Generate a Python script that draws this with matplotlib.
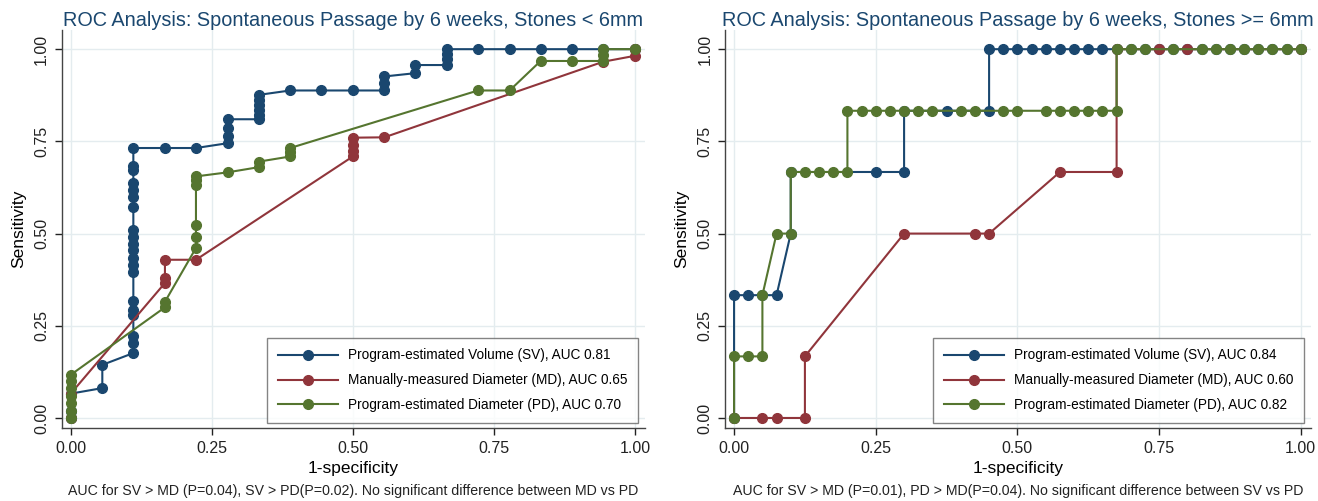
"""
ROC curves for spontaneous stone passage, small vs large stones.
Two panels side by side, Stata s2color look.
"""

import matplotlib
matplotlib.use("Agg")
import matplotlib.pyplot as plt

plt.rcParams["font.family"] = ["Liberation Sans", "DejaVu Sans"]

# colours (Stata s2color)
NAVY = "#1a476f"
MAROON = "#90353b"
FOREST = "#55752f"
GRID = "#e4ecef"

ticks = [0.0, 0.25, 0.5, 0.75, 1.0]
tick_labels = ["0.00", "0.25", "0.50", "0.75", "1.00"]

# ---- Stones < 6mm ----
sv_lo_x = [0, 0, 0, 0.056, 0.056,
           0.111, 0.111, 0.111, 0.111, 0.111, 0.111, 0.111, 0.111, 0.111, 0.111,
           0.111, 0.111, 0.111, 0.111, 0.111, 0.111, 0.111, 0.111, 0.111, 0.111,
           0.167, 0.222, 0.278, 0.278, 0.278, 0.278,
           0.333, 0.333, 0.333, 0.333, 0.333, 0.333,
           0.389, 0.444, 0.5, 0.556, 0.556, 0.556, 0.611, 0.611,
           0.667, 0.667, 0.667, 0.667, 0.722, 0.778, 0.833, 0.889, 0.944, 1.0]
sv_lo_y = [0, 0.02, 0.066, 0.081, 0.144,
           0.176, 0.203, 0.221, 0.28, 0.293, 0.318, 0.397, 0.415, 0.435, 0.456,
           0.472, 0.49, 0.51, 0.573, 0.6, 0.618, 0.637, 0.673, 0.682, 0.732,
           0.732, 0.732, 0.745, 0.765, 0.785, 0.81,
           0.81, 0.822, 0.836, 0.849, 0.863, 0.876,
           0.888, 0.888, 0.888, 0.888, 0.908, 0.926, 0.935, 0.957,
           0.957, 0.973, 0.986, 1.0, 1.0, 1.0, 1.0, 1.0, 1.0, 1.0]

md_lo_x = [0, 0, 0.167, 0.167, 0.167, 0.222, 0.5, 0.5, 0.5, 0.5, 0.556, 0.944, 1.0, 1.0]
md_lo_y = [0, 0.066, 0.366, 0.379, 0.429, 0.429, 0.709, 0.725, 0.74, 0.76, 0.761, 0.966, 0.982, 1.0]

pd_lo_x = [0, 0, 0, 0, 0, 0, 0, 0.167, 0.167, 0.222, 0.222, 0.222, 0.222, 0.222, 0.222,
           0.278, 0.333, 0.333, 0.389, 0.389, 0.389, 0.722, 0.778, 0.833, 0.889,
           0.944, 0.944, 0.944, 1.0]
pd_lo_y = [0, 0.02, 0.04, 0.06, 0.08, 0.1, 0.117, 0.3, 0.315, 0.461, 0.492, 0.524, 0.632, 0.645, 0.655,
           0.666, 0.68, 0.695, 0.709, 0.72, 0.732, 0.888, 0.888, 0.968, 0.968,
           0.968, 0.985, 1.0, 1.0]

# ---- Stones >= 6mm ----
sv_hi_x = [0, 0, 0.025, 0.05, 0.075, 0.1, 0.1, 0.25, 0.3, 0.3, 0.375, 0.45, 0.45,
           0.475, 0.5, 0.525, 0.55, 0.575, 0.6, 0.625, 0.65, 0.675, 0.7, 0.725, 0.75,
           0.775, 0.8, 0.825, 0.85, 0.875, 0.9, 0.925, 0.95, 0.975, 1.0]
sv_hi_y = [0, 0.333, 0.333, 0.333, 0.333, 0.5, 0.667, 0.667, 0.667, 0.833, 0.833, 0.833, 1.0,
           1.0, 1.0, 1.0, 1.0, 1.0, 1.0, 1.0, 1.0, 1.0, 1.0, 1.0, 1.0,
           1.0, 1.0, 1.0, 1.0, 1.0, 1.0, 1.0, 1.0, 1.0, 1.0]

md_hi_x = [0, 0.05, 0.075, 0.125, 0.125, 0.3, 0.425, 0.45, 0.575, 0.675, 0.675, 0.75, 0.8, 1.0]
md_hi_y = [0, 0, 0, 0, 0.167, 0.5, 0.5, 0.5, 0.667, 0.667, 1.0, 1.0, 1.0, 1.0]

pd_hi_x = [0, 0, 0.025, 0.05, 0.05, 0.075, 0.1, 0.1, 0.125, 0.15, 0.175, 0.2, 0.2,
           0.225, 0.25, 0.275, 0.3, 0.325, 0.35, 0.4, 0.425, 0.475, 0.5, 0.55, 0.575,
           0.6, 0.625, 0.65, 0.675, 0.675, 0.7, 0.725, 0.775, 0.825, 0.85, 0.875, 0.9,
           0.925, 0.95, 0.975, 1.0]
pd_hi_y = [0, 0.167, 0.167, 0.167, 0.333, 0.5, 0.5, 0.667, 0.667, 0.667, 0.667, 0.667, 0.833,
           0.833, 0.833, 0.833, 0.833, 0.833, 0.833, 0.833, 0.833, 0.833, 0.833, 0.833, 0.833,
           0.833, 0.833, 0.833, 0.833, 1.0, 1.0, 1.0, 1.0, 1.0, 1.0, 1.0, 1.0,
           1.0, 1.0, 1.0, 1.0]

panels = [
    {
        "title": "ROC Analysis: Spontaneous Passage by 6 weeks, Stones < 6mm",
        "series": [(sv_lo_x, sv_lo_y, NAVY, "Program-estimated Volume (SV), AUC 0.81"),
                   (md_lo_x, md_lo_y, MAROON, "Manually-measured Diameter (MD), AUC 0.65"),
                   (pd_lo_x, pd_lo_y, FOREST, "Program-estimated Diameter (PD), AUC 0.70")],
        "note": "AUC for SV > MD (P=0.04), SV > PD(P=0.02). No significant difference between MD vs PD",
        "rect": [61.7 / 1318, 1 - 428.3 / 501, (645 - 61.7) / 1318, (428.3 - 30) / 501],
    },
    {
        "title": "ROC Analysis: Spontaneous Passage by 6 weeks, Stones >= 6mm",
        "series": [(sv_hi_x, sv_hi_y, NAVY, "Program-estimated Volume (SV), AUC 0.84"),
                   (md_hi_x, md_hi_y, MAROON, "Manually-measured Diameter (MD), AUC 0.60"),
                   (pd_hi_x, pd_hi_y, FOREST, "Program-estimated Diameter (PD), AUC 0.82")],
        "note": "AUC for SV > MD (P=0.01), PD > MD(P=0.04). No significant difference between SV vs PD",
        "rect": [725 / 1318, 1 - 428.3 / 501, (1311 - 725) / 1318, (428.3 - 30) / 501],
    },
]


def draw_panel(fig, p):
    ax = fig.add_axes(p["rect"])
    for x, y, c, lab in p["series"]:
        ax.plot(x, y, color=c, lw=1.5, marker="o", ms=7, mec=c, mfc=c, label=lab)

    ax.set_xlim(-0.016, 1.018)
    ax.set_ylim(-0.028, 1.052)
    ax.set_xticks(ticks)
    ax.set_xticklabels(tick_labels)
    ax.set_yticks(ticks)
    ax.set_yticklabels(tick_labels, rotation=90, va="center")
    ax.tick_params(labelsize=11.5, colors="#222222", length=5, width=1, direction="out", pad=4)
    ax.grid(True, color=GRID, lw=1)
    ax.set_axisbelow(True)
    for s in ["top", "right"]:
        ax.spines[s].set_visible(False)
    for s in ["left", "bottom"]:
        ax.spines[s].set_color("#444444")
        ax.spines[s].set_linewidth(1)

    ax.set_xlabel("1-specificity", fontsize=12.5, labelpad=4)
    ax.set_ylabel("Sensitivity", fontsize=12.5, labelpad=6)
    ax.set_title(p["title"], fontsize=14.3, color=NAVY, pad=3)

    leg = ax.legend(loc="lower right", bbox_to_anchor=(0.988, 0.013), fontsize=9.8,
                    frameon=True, fancybox=False, handlelength=4.4, borderpad=0.8,
                    labelspacing=0.8, handletextpad=0.7, borderaxespad=0)
    leg.get_frame().set_edgecolor("#666666")
    leg.get_frame().set_linewidth(1)

    cx = p["rect"][0] + p["rect"][2] / 2
    fig.text(cx, 1 - 491 / 501, p["note"], fontsize=10.2, ha="center", va="center", color="#222222")
    return ax


def main():
    fig = plt.figure(figsize=(13.18, 5.01), dpi=100)
    for p in panels:
        draw_panel(fig, p)
    fig.savefig("out.png", dpi=100, facecolor="white")
    plt.close(fig)


if __name__ == "__main__":
    main()
